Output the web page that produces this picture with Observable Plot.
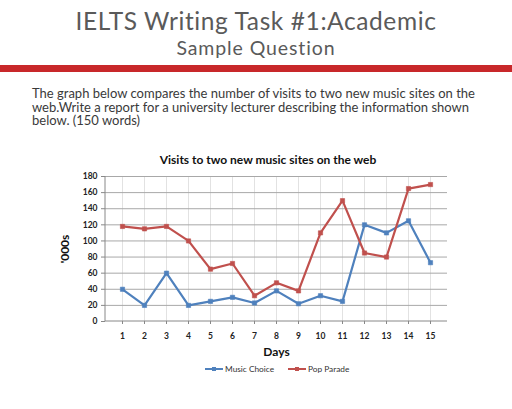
<!DOCTYPE html>
<html><head><meta charset="utf-8">
<script src="https://cdn.jsdelivr.net/npm/d3@7"></script>
<script src="https://cdn.jsdelivr.net/npm/@observablehq/plot@0.6"></script>
<style>
html,body{margin:0;padding:0;background:#fff;}
#page{position:relative;width:512px;height:409px;overflow:hidden;font-family:Lato,"Open Sans",sans-serif;}
#h1{position:absolute;top:6px;left:0;width:512px;text-align:center;font-size:24.5px;font-weight:400;color:#5a5a5a;letter-spacing:0.6px;}
#h2{position:absolute;top:36px;left:0;width:512px;text-align:center;font-size:19.5px;font-weight:400;color:#5a5a5a;letter-spacing:0.9px;}
#bar{position:absolute;top:65px;left:0;width:512px;height:7px;background:#c8282a;}
#para{position:absolute;top:87px;left:32px;width:470px;font-size:13px;line-height:13.5px;color:#3a3a3a;}
#ctitle{position:absolute;top:152px;left:68px;width:400px;text-align:center;font-size:12px;font-weight:bold;color:#111;}
#chart{position:absolute;top:166px;left:0;}
#legend{position:absolute;top:363px;left:0;width:512px;font-size:8.3px;color:#333;}
.lg{position:absolute;top:0;display:flex;align-items:center;height:12px;}
.sw{position:relative;width:18px;height:2px;margin-right:2px;}
.sw i{position:absolute;left:7px;top:-1.5px;width:4px;height:4px;}
</style></head>
<body><div id="page">
<div id="h1">IELTS Writing Task #1:Academic</div>
<div id="h2">Sample Question</div>
<div id="bar"></div>
<div id="para">The graph below compares the number of visits to two new music sites on the web.Write a report for a university lecturer describing the information shown below. (150 words)</div>
<div id="ctitle">Visits to two new music sites on the web</div>
<div id="chart"></div>
<div id="legend"></div>
</div>
<script>
const days = [1,2,3,4,5,6,7,8,9,10,11,12,13,14,15];
const musicChoice = [40,20,60,20,25,30,23,38,22,32,25,120,110,125,73];
const popParade = [118,115,118,100,65,72,32,48,38,110,150,85,80,165,170];
const seriesNames = ["Music Choice","Pop Parade"];
const seriesColors = ["#4f81bd","#c0504d"];
const yTicks = [0,20,40,60,80,100,120,140,160,180];

const data = [];
days.forEach((d,i)=>{
  data.push({day:d, value:musicChoice[i], series:seriesNames[0]});
  data.push({day:d, value:popParade[i], series:seriesNames[1]});
});

const chart = Plot.plot({
  width:512, height:195,
  marginLeft:105, marginRight:65, marginTop:10, marginBottom:40,
  style:{fontFamily:"Lato, 'Open Sans', sans-serif", fontSize:"8.5px", color:"#222", background:"transparent"},
  x:{type:"point", domain:days, padding:0.5},
  y:{domain:[0,180]},
  color:{domain:seriesNames, range:seriesColors},
  marks:[
    Plot.ruleX(days,{x:d=>d, stroke:"#e2e2e2", strokeWidth:1}),
    Plot.ruleY(yTicks.filter(t=>t>0),{y:d=>d, stroke:"#a8a8a8", strokeWidth:1}),
    Plot.axisY({ticks:yTicks, tickSize:4, tickPadding:4, stroke:"#888", label:"'000s", labelAnchor:"center", labelArrow:"none", labelOffset:45, fontWeight:"bold"}),
    Plot.axisX({tickSize:3, tickPadding:8, stroke:"#888", fontWeight:"bold", label:"Days", labelAnchor:"center", labelArrow:"none", labelOffset:34}),
    Plot.line(data,{x:"day", y:"value", stroke:"series", strokeWidth:2.2}),
    Plot.dot(data,{x:"day", y:"value", symbol:"square", r:2.4, fill:"series", stroke:"series", strokeWidth:0.6})
  ]
});
chart.querySelectorAll("[aria-label='y-axis label'] text, [aria-label='x-axis label'] text").forEach(t=>{
  t.setAttribute("font-weight","bold"); t.setAttribute("font-size","12px"); t.setAttribute("fill","#111");
});
document.getElementById("chart").appendChild(chart);

const svg = d3.select(chart);
svg.append("line").attr("x1",105).attr("x2",105).attr("y1",10).attr("y2",155).attr("stroke","#888");
svg.append("line").attr("x1",105).attr("x2",447).attr("y1",155).attr("y2",155).attr("stroke","#888");

const leg = document.getElementById("legend");
const pos = [205, 288];
seriesNames.forEach((n,i)=>{
  const el = document.createElement("div");
  el.className="lg"; el.style.left=pos[i]+"px";
  el.innerHTML = `<span class="sw" style="background:${seriesColors[i]}"><i style="background:${seriesColors[i]}"></i></span><span>${n}</span>`;
  leg.appendChild(el);
});
</script>
</body></html>
